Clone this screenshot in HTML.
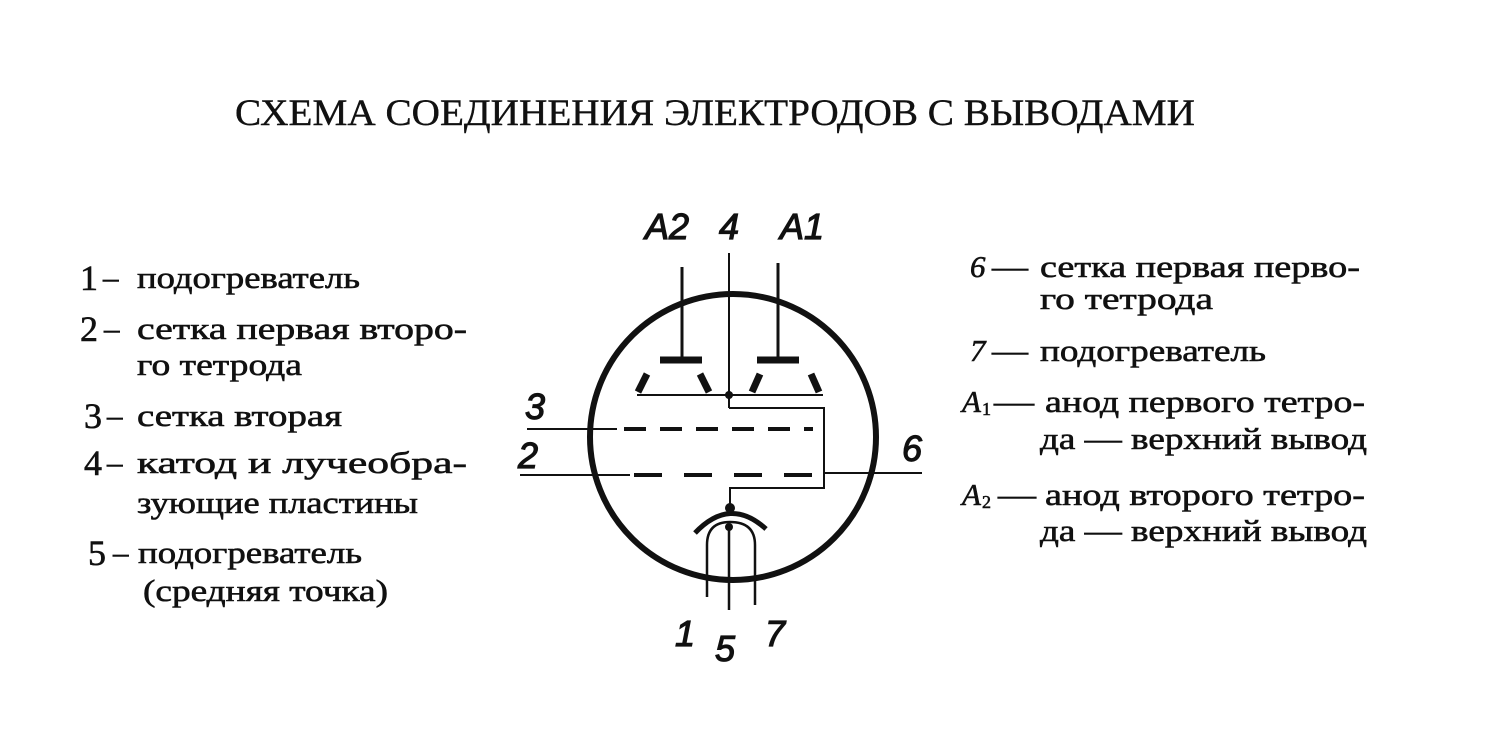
<!DOCTYPE html>
<html><head><meta charset="utf-8"><style>
html,body{margin:0;padding:0;background:#fff;}
svg{display:block;}
.t{font-family:"Liberation Serif",serif;font-size:31px;fill:#111;stroke:#111;stroke-width:0.6;}
.d{font-family:"Liberation Sans",sans-serif;font-style:italic;font-size:36px;fill:#111;stroke:#111;stroke-width:1.2;}
</style></head><body>
<svg width="1500" height="738" viewBox="0 0 1500 738" xmlns="http://www.w3.org/2000/svg">
<text x="235" y="125" class="t" style="font-size:37px;stroke-width:0.4" textLength="960" lengthAdjust="spacingAndGlyphs">СХЕМА СОЕДИНЕНИЯ ЭЛЕКТРОДОВ С ВЫВОДАМИ</text>

<!-- left legend -->
<g class="t">
<text x="80" y="290" style="font-size:36px">1</text><text x="103" y="288">–</text>
<text x="137" y="288" textLength="223" lengthAdjust="spacingAndGlyphs">подогреватель</text>
<text x="80" y="341" style="font-size:36px">2</text><text x="104" y="339">–</text>
<text x="137" y="339" textLength="330" lengthAdjust="spacingAndGlyphs">сетка  первая  второ-</text>
<text x="137" y="375" textLength="165" lengthAdjust="spacingAndGlyphs">го тетрода</text>
<text x="84" y="428" style="font-size:36px">3</text><text x="107" y="426">–</text>
<text x="137" y="426" textLength="205" lengthAdjust="spacingAndGlyphs">сетка вторая</text>
<text x="84" y="475" style="font-size:36px">4</text><text x="107" y="473">–</text>
<text x="137" y="473" textLength="330" lengthAdjust="spacingAndGlyphs">катод    и    лучеобра-</text>
<text x="137" y="513" textLength="281" lengthAdjust="spacingAndGlyphs">зующие пластины</text>
<text x="88" y="565" style="font-size:36px">5</text><text x="113" y="563">–</text>
<text x="138" y="563" textLength="224" lengthAdjust="spacingAndGlyphs">подогреватель</text>
<text x="143" y="601" textLength="245" lengthAdjust="spacingAndGlyphs">(средняя точка)</text>
</g>

<!-- right legend -->
<g class="t">
<text x="970" y="277" font-style="italic">6</text><text x="992" y="277" textLength="36" lengthAdjust="spacingAndGlyphs">—</text>
<text x="1040" y="277" textLength="320" lengthAdjust="spacingAndGlyphs">сетка первая перво-</text>
<text x="1040" y="309" textLength="173" lengthAdjust="spacingAndGlyphs">го тетрода</text>
<text x="970" y="361" font-style="italic">7</text><text x="992" y="361" textLength="36" lengthAdjust="spacingAndGlyphs">—</text>
<text x="1040" y="361" textLength="226" lengthAdjust="spacingAndGlyphs">подогреватель</text>
<text x="962" y="412" font-style="italic">A</text><text x="982" y="415" style="font-size:18px">1</text><text x="994" y="412" textLength="40" lengthAdjust="spacingAndGlyphs">—</text>
<text x="1045" y="412" textLength="320" lengthAdjust="spacingAndGlyphs">анод первого тетро-</text>
<text x="1040" y="449" textLength="327" lengthAdjust="spacingAndGlyphs">да — верхний вывод</text>
<text x="962" y="505" font-style="italic">A</text><text x="982" y="508" style="font-size:18px">2</text><text x="998" y="505" textLength="38" lengthAdjust="spacingAndGlyphs">—</text>
<text x="1045" y="505" textLength="320" lengthAdjust="spacingAndGlyphs">анод второго тетро-</text>
<text x="1040" y="541" textLength="327" lengthAdjust="spacingAndGlyphs">да — верхний вывод</text>
</g>

<!-- tube -->
<g stroke="#111" fill="none">
<circle cx="733" cy="437" r="143" stroke-width="6"/>
<line x1="682" y1="267" x2="682" y2="358" stroke-width="3"/>
<line x1="778" y1="263" x2="778" y2="358" stroke-width="3"/>
<line x1="729" y1="253" x2="729" y2="408" stroke-width="2"/>
<line x1="660" y1="360" x2="702" y2="360" stroke-width="7"/>
<line x1="757" y1="360" x2="799" y2="360" stroke-width="7"/>
<line x1="638" y1="392" x2="647" y2="374" stroke-width="7"/>
<line x1="700" y1="374" x2="709" y2="392" stroke-width="7"/>
<line x1="760" y1="374" x2="752" y2="392" stroke-width="7"/>
<line x1="811" y1="374" x2="819" y2="392" stroke-width="7"/>
<line x1="637" y1="395" x2="823" y2="395" stroke-width="2"/>
<polyline points="729,408 824,408 824,488 730,488 730,505" stroke-width="2"/>
<line x1="527" y1="429" x2="617" y2="429" stroke-width="2"/>
<line x1="624" y1="429" x2="813" y2="429" stroke-width="4" stroke-dasharray="22,14"/>
<line x1="520" y1="475" x2="630" y2="475" stroke-width="2"/>
<line x1="634" y1="475" x2="824" y2="475" stroke-width="4" stroke-dasharray="28,22"/>
<line x1="824" y1="473" x2="922" y2="473" stroke-width="2"/>
<path d="M695,533 Q730,496 766,529" stroke-width="5"/>
<path d="M707,597 L707,545 Q707,522 730,522 Q755,522 755,545 L755,605" stroke-width="2.5"/>
<line x1="729" y1="525" x2="729" y2="610" stroke-width="2.5"/>
</g>
<circle cx="729" cy="395" r="4" fill="#111"/>
<circle cx="730" cy="508" r="5" fill="#111"/>
<circle cx="729" cy="527" r="4" fill="#111"/>

<g class="d">
<text x="645" y="239">A2</text>
<text x="719" y="239">4</text>
<text x="780" y="239">A1</text>
<text x="525" y="419">3</text>
<text x="518" y="468">2</text>
<text x="902" y="461">6</text>
<text x="675" y="646">1</text>
<text x="715" y="661">5</text>
<text x="765" y="646">7</text>
</g>
</svg>
</body></html>
